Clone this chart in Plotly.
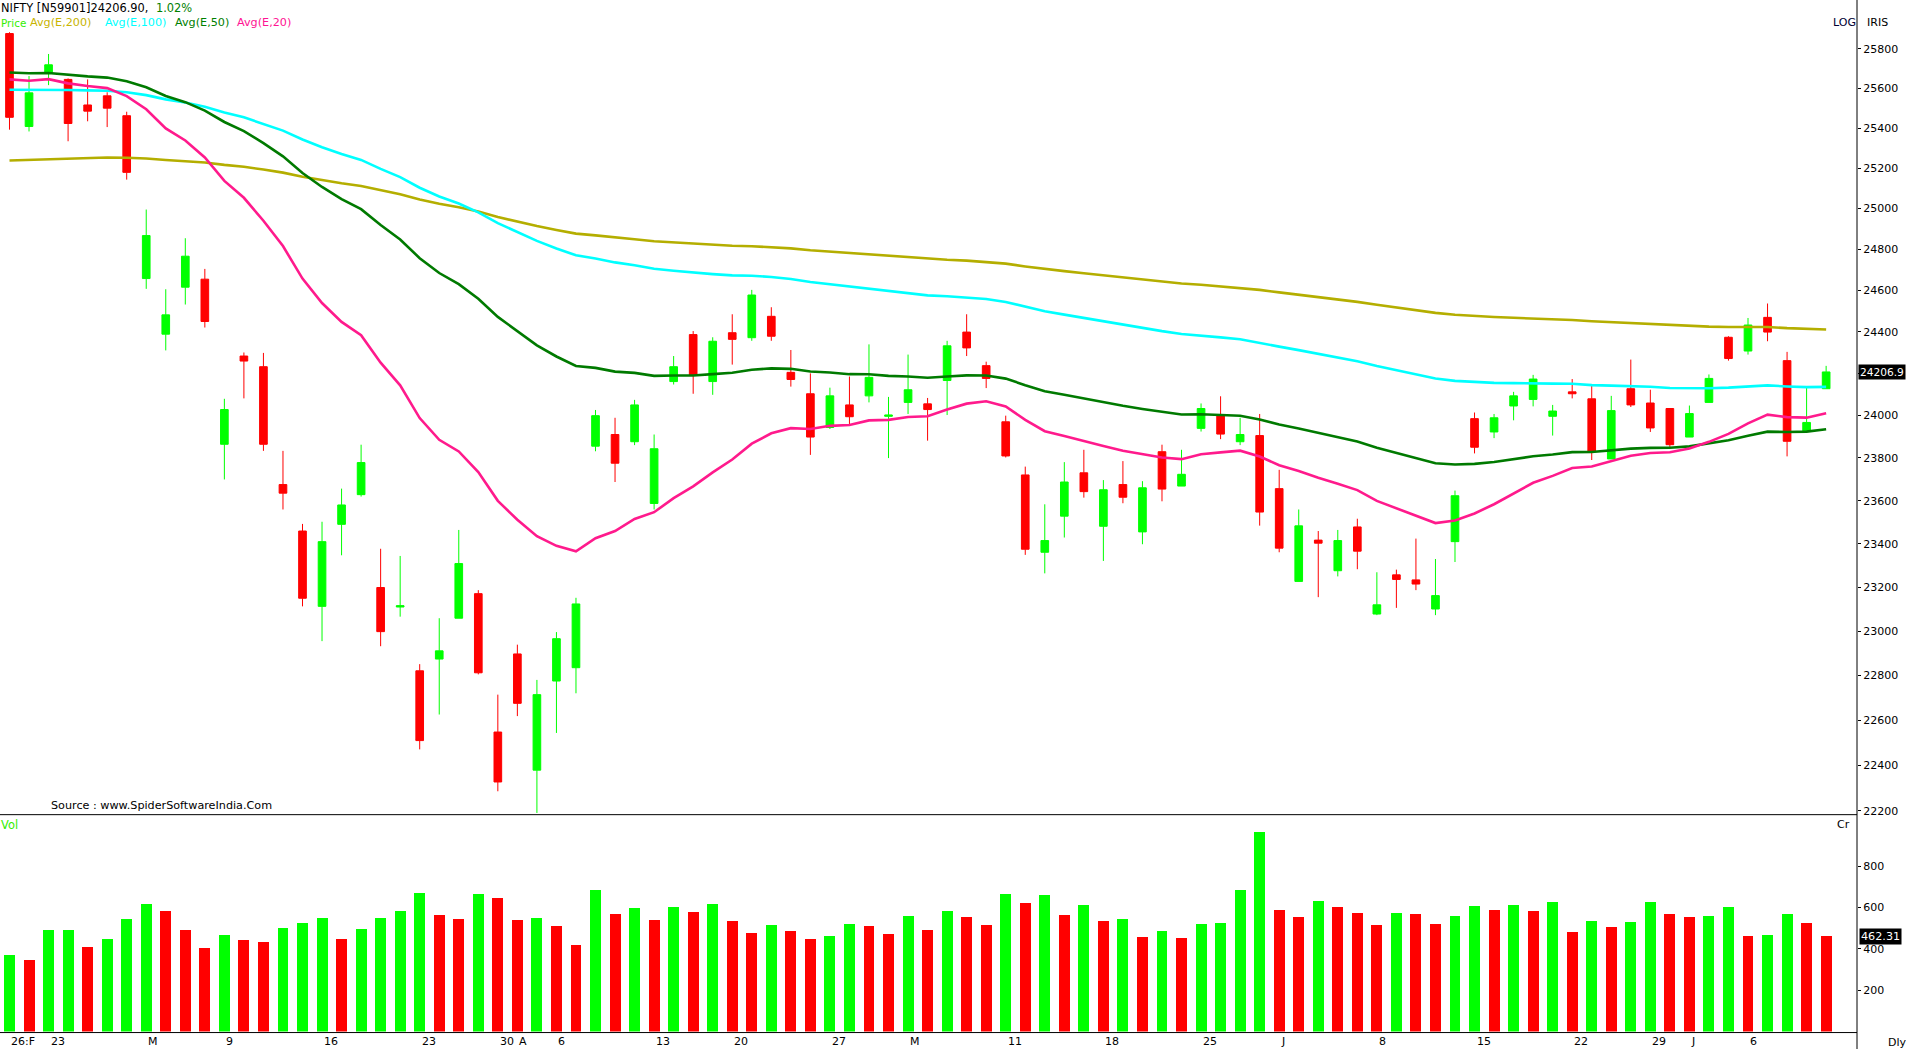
import math
import plotly.graph_objects as go

# ---------------- data ----------------
opens = [25878, 25408, 25680, 25645, 25516, 25562, 25462, 24657, 24388, 24615,
         24654, 23864, 24283, 24232, 23675, 23459, 23113, 23490, 23628, 23199,
         23110, 22821, 22874, 23059, 23171, 22547, 22897, 22378, 22775, 22835,
         23855, 23910, 23876, 23587, 24161, 24386, 24161, 24395, 24371, 24474,
         24205, 24103, 23943, 24050, 24093, 23996, 24062, 24055, 24166, 24398,
         24237, 23970, 23720, 23361, 23528, 23730, 23481, 23675, 23455, 23829,
         23668, 23939, 23997, 23876, 23905, 23656, 23227, 23417, 23276, 23478,
         23078, 23257, 23234, 23101, 23410, 23985, 23922, 24045, 24076, 23996,
         24112, 24079, 23795, 24127, 24059, 24033, 23898, 24062, 24373, 24307,
         24469, 24261, 23927, 24127]
highs = [25885, 25662, 25774, 25650, 25645, 25580, 25482, 24995, 24605, 24854,
         24704, 24079, 24300, 24298, 23833, 23492, 23502, 23656, 23862, 23377,
         23344, 22851, 23059, 23464, 23187, 22714, 22939, 22780, 22996, 23152,
         24026, 23989, 24074, 23910, 24283, 24403, 24373, 24484, 24602, 24518,
         24312, 24200, 24132, 24185, 24339, 24088, 24290, 24083, 24356, 24484,
         24256, 23999, 23759, 23583, 23780, 23838, 23696, 23785, 23691, 23862,
         23838, 24057, 24091, 23989, 24007, 23744, 23559, 23459, 23464, 23516,
         23269, 23281, 23424, 23330, 23647, 24014, 24007, 24112, 24193, 24050,
         24173, 24144, 24093, 24266, 24122, 24035, 24047, 24195, 24378, 24466,
         24536, 24303, 24139, 24236]
lows = [25392, 25383, 25616, 25334, 25434, 25405, 25143, 24607, 24310, 24531,
        24420, 23699, 24081, 23833, 23559, 23113, 22955, 23347, 23619, 22932,
        23066, 22470, 22625, 23059, 22805, 22285, 22618, 22190, 22543, 22720,
        23831, 23687, 23860, 23559, 24147, 24103, 24098, 24242, 24356, 24356,
        24137, 23814, 23936, 23953, 24062, 23799, 24007, 23881, 24002, 24283,
        24130, 23802, 23349, 23264, 23429, 23614, 23321, 23588, 23398, 23597,
        23668, 23924, 23888, 23860, 23484, 23361, 23227, 23155, 23250, 23283,
        23073, 23106, 23187, 23073, 23316, 23821, 23893, 23977, 24043, 23905,
        24081, 23790, 23795, 24040, 23922, 23845, 23898, 24062, 24261, 24290,
        24354, 23807, 23927, 24127]
closes = [25454, 25577, 25719, 25423, 25485, 25500, 25179, 24867, 24481, 24766,
          24449, 24028, 24259, 23864, 23635, 23150, 23410, 23580, 23778, 22998,
          23116, 22509, 22911, 23309, 22812, 22326, 22675, 22714, 22966, 23124,
          23999, 23775, 24050, 23843, 24232, 24190, 24354, 24363, 24577, 24378,
          24171, 23898, 24093, 23994, 24181, 24002, 24122, 24028, 24332, 24322,
          24176, 23809, 23375, 23415, 23687, 23642, 23651, 23616, 23660, 23654,
          23723, 24033, 23912, 23910, 23547, 23380, 23483, 23403, 23415, 23366,
          23120, 23236, 23215, 23162, 23623, 23850, 23989, 24093, 24173, 24021,
          24103, 23831, 24023, 24050, 23941, 23862, 24009, 24176, 24271, 24432,
          24398, 23878, 23967, 24206.90]
volumes = [373, 349, 494, 495, 412, 450, 547, 619, 585, 494,
           407, 470, 446, 436, 503, 528, 552, 450, 499, 552,
           585, 672, 566, 547, 667, 648, 542, 552, 513, 422,
           687, 571, 600, 542, 605, 581, 619, 537, 479, 518,
           489, 450, 465, 523, 513, 475, 561, 494, 585, 556,
           518, 667, 624, 662, 566, 614, 537, 547, 460, 489,
           455, 523, 528, 687, 966, 590, 556, 633, 605, 576,
           518, 576, 571, 523, 561, 610, 590, 614, 585, 629,
           484, 537, 508, 532, 629, 571, 556, 561, 605, 465,
           470, 571, 528, 462.31]
# EMA values on the first visible day
ema_seeds = {20: 25645, 50: 25680, 100: 25593, 200: 25238}
date_labels = ["26:F", "23", "M", "9", "16", "23", "30", "A", "6", "13", "20", "27",
               "M", "11", "18", "25", "J", "8", "15", "22", "29", "J", "6"]
date_label_pos = [0, 2, 7, 11, 16, 21, 25, 26, 28, 33, 37, 42,
                  46, 51, 56, 61, 65, 70, 75, 80, 84, 86, 89]
price_ticks = list(range(22200, 25801, 200))
vol_ticks = [200, 400, 600, 800]

# ---------------- figure ----------------
W, H = 1906, 1052
FONT = "DejaVu Sans"
GREEN, RED = "#00ff00", "#ff0000"

def px(x):
    return x / W

def py(y):
    return 1 - y / H

n = len(closes)
xs = list(range(n))

def ema(vals, period, seed):
    a = 2.0 / (period + 1)
    out = [seed]
    for v in vals[1:]:
        out.append(out[-1] + a * (v - out[-1]))
    return out

fig = go.Figure()
fig.add_trace(go.Candlestick(
    x=xs, open=opens, high=highs, low=lows, close=closes,
    increasing=dict(line=dict(color=GREEN, width=1), fillcolor=GREEN),
    decreasing=dict(line=dict(color=RED, width=1), fillcolor=RED),
    whiskerwidth=0, xaxis="x", yaxis="y", showlegend=False, hoverinfo="skip"))

ema_colors = {200: "#b4ae00", 100: "#00ffff", 50: "#007a00", 20: "#ff1a8c"}
for p in [200, 100, 50, 20]:
    fig.add_trace(go.Scatter(x=xs, y=ema(closes, p, ema_seeds[p]), mode="lines",
                             line=dict(color=ema_colors[p], width=2.6),
                             xaxis="x", yaxis="y", showlegend=False, hoverinfo="skip"))

vcols = [GREEN] + [GREEN if volumes[i] >= volumes[i - 1] else RED for i in range(1, n)]
fig.add_trace(go.Bar(x=xs, y=volumes, marker=dict(color=vcols, line=dict(width=0)),
                     width=0.56, xaxis="x", yaxis="y2", showlegend=False, hoverinfo="skip"))

x_right = px(1857)
p_lo = 25800 * math.exp(-(817 - 49) / 5083.6)
p_hi = 25800 * math.exp(49 / 5083.6)

# the 24200 label sits under the last-price box in the reference
price_ticktext = ["" if t == 24200 else str(t) for t in price_ticks]

fig.update_layout(
    width=W, height=H, margin=dict(l=0, r=0, t=0, b=0),
    paper_bgcolor="white", plot_bgcolor="white",
    boxgap=0.44, bargap=0,
    font=dict(family=FONT, size=11, color="black"),
    xaxis=dict(domain=[0, x_right], range=[-0.486, 94.58], anchor="y2",
               showticklabels=False, showgrid=False, zeroline=False, showline=False,
               ticks="", rangeslider=dict(visible=False), fixedrange=True),
    yaxis=dict(type="log", domain=[py(817), 1],
               range=[math.log10(p_lo), math.log10(p_hi)], side="right", anchor="x",
               tickvals=price_ticks, ticktext=price_ticktext,
               ticks="outside", ticklen=3, tickcolor="black",
               showgrid=False, zeroline=False, showline=False,
               tickfont=dict(family=FONT, size=11, color="black")),
    yaxis2=dict(domain=[py(1034.5), py(817)], range=[0, 1050], side="right", anchor="x",
                tickvals=vol_ticks, ticktext=[str(t) for t in vol_ticks],
                ticks="outside", ticklen=3, tickcolor="black",
                showgrid=False, zeroline=False, showline=False,
                tickfont=dict(family=FONT, size=11, color="black")),
)

shapes = [
    dict(type="line", xref="paper", yref="paper", x0=x_right, x1=x_right, y0=0, y1=1,
         line=dict(color="black", width=1)),
    dict(type="line", xref="paper", yref="paper", x0=0, x1=x_right, y0=py(817), y1=py(817),
         line=dict(color="black", width=1)),
    dict(type="line", xref="paper", yref="paper", x0=0, x1=x_right, y0=py(1035.5), y1=py(1035.5),
         line=dict(color="black", width=1)),
]
fig.update_layout(shapes=shapes)

ann = []

def txt(x, y, s, color="black", size=11, anchor="left"):
    ann.append(dict(xref="paper", yref="paper", x=px(x), y=py(y), text=s, showarrow=False,
                    xanchor=anchor, yanchor="middle", borderpad=0,
                    font=dict(family=FONT, size=size, color=color)))

txt(0, 8, "NIFTY [N59901]24206.90,", size=11.4)
txt(155, 8, "1.02%", color="#008000", size=11.4)
txt(0, 23, "Price", color="#33ee00", size=10.4)
txt(29, 23, "Avg(E,200)", color="#c8b400", size=11.2)
txt(104, 23, "Avg(E,100)", color="#00ffff", size=11.2)
txt(174, 23, "Avg(E,50)", color="#008000", size=11.2)
txt(236, 23, "Avg(E,20)", color="#ff1493", size=11.2)
txt(1832, 23, "LOG", color="#000033")
txt(1866, 23, "IRIS")
txt(50, 808, "Source : www.SpiderSoftwareIndia.Com", size=11.2)
txt(0, 827, "Vol", color="#33ee00", size=11.4)
txt(1836, 827, "Cr")
txt(1887, 1045, "Dly")

for lbl, pos in zip(date_labels, date_label_pos):
    ann.append(dict(xref="x", yref="paper", x=pos, y=py(1044), text=lbl, showarrow=False,
                    xanchor="left", yanchor="middle", xshift=0,
                    font=dict(family=FONT, size=11, color="black")))

ann.append(dict(xref="paper", yref="y", x=1.0, y=math.log10(closes[-1]),
                text="24206.9", showarrow=False, xanchor="right", yanchor="middle",
                bgcolor="black", borderpad=1, font=dict(family=FONT, size=10.6, color="white")))
ann.append(dict(xref="paper", yref="y2", x=px(1859), y=volumes[-1],
                text="462.31", showarrow=False, xanchor="left", yanchor="middle",
                bgcolor="black", borderpad=1, font=dict(family=FONT, size=11.2, color="white")))

fig.update_layout(annotations=ann)
fig.write_html("out.html")
